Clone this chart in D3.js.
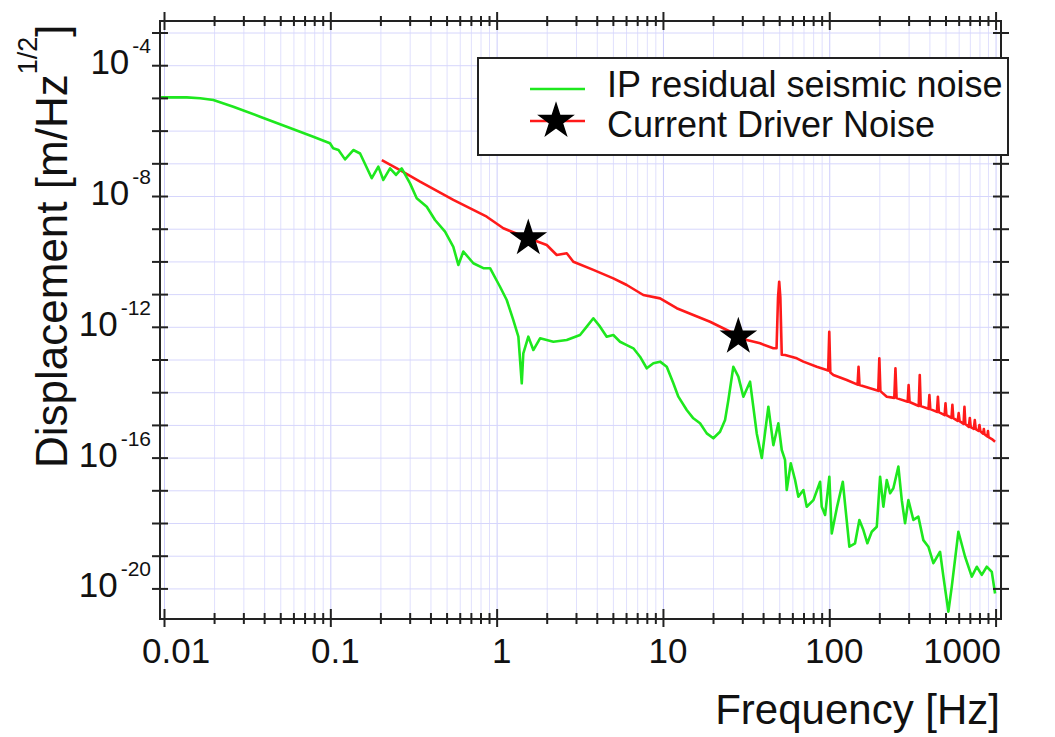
<!DOCTYPE html>
<html>
<head>
<meta charset="utf-8">
<script src="https://cdn.jsdelivr.net/npm/d3@7"></script>
<style>
  body { margin: 0; background: #fff; }
  text { font-family: "Liberation Sans", Arial, Helvetica, sans-serif; fill: #111; }
</style>
</head>
<body>
<svg id="chart" width="1055" height="737"></svg>
<script>
// IP residual seismic noise [Hz, m/rtHz]
const ipNoise = [
  [0.0096,1.04e-5],[0.0137,1.04e-5],[0.0165,9.8e-6],[0.0198,8.6e-6],[0.0261,5.4e-6],[0.0378,2.66e-6],[0.0547,1.32e-6],
  [0.079,6.5e-7],[0.0995,4.1e-7],[0.104,2.9e-7],[0.112,2.55e-7],[0.1226,1.32e-7],[0.1375,2.55e-7],
  [0.151,2.0e-7],[0.1775,3.5e-8],[0.1944,7.9e-8],[0.2083,3.1e-8],[0.2286,7.0e-8],[0.2483,4.4e-8],
  [0.2687,7.0e-8],[0.3015,2.44e-8],[0.3307,8.5e-9],[0.38,4.7e-9],[0.4262,1.85e-9],[0.4895,8.1e-10],
  [0.549,2.8e-10],[0.5884,7.8e-11],[0.6306,2.0e-10],[0.7244,8.8e-11],[0.8318,6.2e-11],[0.9127,6.2e-11],
  [1.048,1.68e-11],[1.15,6.6e-12],[1.26,1.61e-12],[1.351,5.0e-13],[1.416,1.87e-14],[1.447,1.55e-13],
  [1.551,5.0e-13],[1.662,1.95e-13],[1.824,4.45e-13],[2.193,3.5e-13],[2.64,3.95e-13],[3.173,5.6e-13],
  [3.482,1.01e-12],[3.815,1.82e-12],[4.186,1.01e-12],[4.59,5.0e-13],[5.03,5.6e-13],[5.52,3.5e-13],
  [6.06,2.77e-13],[6.64,2.2e-13],[7.28,1.22e-13],[7.99,5.4e-14],[8.76,7.7e-14],[9.61,8.6e-14],
  [10.54,6.0e-14],[11.55,1.87e-14],[12.38,7.3e-15],[13.9,2.86e-15],[15.23,1.59e-15],[16.71,1.12e-15],
  [18.34,5.5e-16],[20.09,3.9e-16],[22.04,6.2e-16],[23.63,1.41e-15],[24.74,5.8e-15],[26.5,6.0e-14],
  [28.4,3.0e-14],[30.44,7.3e-15],[33.4,2.1e-14],[36.64,5.5e-16],[39.28,9.7e-17],[43.04,3.6e-15],
  [46.12,2.4e-16],[49.43,1.12e-15],[51.8,1.71e-16],[54.2,8.5e-17],[55.5,1.02e-17],[58.7,6.7e-17],
  [62.3,2.07e-17],[65.2,6.4e-18],[69.9,1.02e-17],[73.2,3.15e-18],[80.3,5.0e-18],[88.1,1.83e-17],
  [90.1,3.15e-18],[94.4,1.76e-18],[100.1,2.6e-17],[103.5,4.8e-19],[110.9,2.8e-18],[120.6,1.83e-17],
  [132.1,1.88e-19],[142.9,2.4e-19],[151.7,1.24e-18],[160.4,6.1e-19],[169.5,2.4e-19],[180.1,5.4e-19],
  [193.1,7.7e-19],[202.1,2.6e-17],[211.5,3.15e-18],[221.7,2.07e-17],[232.1,8.1e-18],[242.9,1.15e-17],
  [260.4,5.3e-17],[272.9,5.0e-18],[285.6,9.8e-19],[299.1,5.0e-18],[320.5,1.24e-18],[343.4,1.56e-18],
  [367.9,3.0e-19],[394.4,1.88e-19],[422.7,5.9e-20],[463.7,1.32e-19],[485.6,2.3e-20],[520.3,1.94e-21],
  [545.3,1.13e-20],[597.6,5.4e-19],[655.7,9.3e-20],[719.4,2.3e-20],[770.8,4.6e-20],[826,2.6e-20],
  [885.2,4.6e-20],[949,3.2e-20],[993,7.0e-21]
];

// Current driver noise [Hz, m/rtHz]
const driverNoise = [
  [0.204,1.26e-7],[0.2625,6.2e-8],[0.3463,2.74e-8],[0.549,7.6e-9],[0.872,2.33e-9],[1.097,1.03e-9],
  [1.382,6.4e-10],[2.001,3.18e-10],[2.298,1.57e-10],[2.64,1.77e-10],[2.892,9.8e-11],[3.815,5.5e-11],
  [5.03,3.04e-11],[6.06,1.9e-11],[7.62,9.4e-12],[9.61,7.4e-12],[12.1,3.7e-12],[15.23,2.3e-12],
  [19.19,1.43e-12],[24.2,8.0e-13],[31.9,3.95e-13],[38.4,3.13e-13],[46.1,2.2e-13],[48.2,2.2e-13],
  [49.2,8e-12],[50,2.4e-11],[50.8,8e-12],[51.8,1.4e-13],[54.2,1.37e-13],[63.8,1.09e-13],[69.9,8.6e-14],
  [84.1,6.0e-14],[96.6,4.8e-14],[98.5,4.6e-14],[100,7.1e-13],[101.5,4.0e-14],[105.9,3.36e-14],
  [127.4,2.36e-14],[148,1.7e-14],[150,6.0e-14],[152,1.65e-14],[176,1.32e-14],[197,1.1e-14],
  [200,1.09e-13],[203,1.08e-14],[221.7,7.3e-15],[246,6.7e-15],[250,5.4e-14],[254,6.6e-15],
  [296,5.1e-15],[300,1.66e-14],[304,5.0e-15],[345,3.8e-15],[350,3.36e-14],[355,3.75e-15],
  [395,3.1e-15],[400,8.2e-15],[405,3.05e-15],[444,2.5e-15],[450,7.3e-15],[456,2.45e-15],
  [494,2.0e-15],[500,4.6e-15],[506,2.0e-15],[543,1.64e-15],[550,4.1e-15],[557,1.62e-15],
  [592,1.33e-15],[600,2.3e-15],[608,1.31e-15],[642,1.08e-15],[650,3.6e-15],[658,1.06e-15],
  [691,8.7e-16],[700,1.63e-15],[709,8.6e-16],[740,7.6e-16],[750,1.41e-15],[760,7.4e-16],
  [790,6.6e-16],[800,9.9e-16],[810,6.4e-16],[842,5.4e-16],[850,7.5e-16],[858,5.2e-16],
  [893,4.4e-16],[900,6.5e-16],[907,4.2e-16],[950,3.7e-16],[993,3.06e-16]
];

// star markers on the driver noise curve
const driverMarkers = [[1.55,5.1e-10],[28.4,5.0e-13]];

const xTickLabels = ["0.01","0.1","1","10","100","1000"];
const yLabelExps = [-4,-8,-12,-16,-20];
const legendNames = ["IP residual seismic noise","Current Driver Noise"];

const svg = d3.select("#chart");
const pLeft = 160, pRight = 1001, pTop = 21, pBottom = 619;

const x = d3.scaleLog().domain([0.00946,1078]).range([pLeft,pRight]);
const y = d3.scaleLog().domain([1.16e-21,2.25e-3]).range([pBottom,pTop]);

// tick positions
let xAll = [];
for (let e=-2;e<=2;e++){
  for (let m=1;m<=9;m++) xAll.push(+(m*Math.pow(10,e)).toPrecision(6));
}
xAll.push(1000);
let yAll = [];
for (let e=-3;e>=-20;e--) yAll.push(Math.pow(10,e));
const isMajor = d => Math.abs(Math.log10(d) - Math.round(Math.log10(d))) < 1e-6;

svg.append("rect").attr("width",1055).attr("height",737).attr("fill","#fff");

// grid
svg.append("g")
  .attr("transform","translate(0,"+pBottom+")")
  .call(d3.axisBottom(x).tickValues(xAll).tickFormat("").tickSize(-(pBottom-pTop)).tickSizeOuter(0))
  .call(g => g.select(".domain").remove())
  .selectAll(".tick line").attr("stroke", d => isMajor(d) ? "#cdcdfb" : "#e0e0fd").attr("stroke-width",1);
svg.append("g")
  .attr("transform","translate("+pLeft+",0)")
  .call(d3.axisLeft(y).tickValues(yAll).tickFormat("").tickSize(-(pRight-pLeft)).tickSizeOuter(0))
  .call(g => g.select(".domain").remove())
  .selectAll(".tick line").attr("stroke","#d6d6fc").attr("stroke-width",1);

// curves
svg.append("defs").append("clipPath").attr("id","clip")
  .append("rect").attr("x",pLeft).attr("y",pTop).attr("width",pRight-pLeft).attr("height",pBottom-pTop);

const line = d3.line().x(d => x(d[0])).y(d => y(d[1]));

svg.append("path").datum(driverNoise)
  .attr("clip-path","url(#clip)")
  .attr("fill","none").attr("stroke","#ff1a1a").attr("stroke-width",2.6)
  .attr("stroke-linejoin","round")
  .attr("d",line);

svg.append("path").datum(ipNoise)
  .attr("clip-path","url(#clip)")
  .attr("fill","none").attr("stroke","#1ee81e").attr("stroke-width",2.6)
  .attr("stroke-linejoin","round")
  .attr("d",line);

const star = d3.symbol().type(d3.symbolStar).size(340);
svg.selectAll("path.marker").data(driverMarkers).enter()
  .append("path").attr("class","marker")
  .attr("transform", d => "translate("+x(d[0])+","+y(d[1])+")")
  .attr("d",star).attr("fill","#000").attr("stroke","#000").attr("stroke-width",1.5);

// axes: ticks cross the frame
function crossTicks(g, inner, outer){
  g.select(".domain").remove();
  g.selectAll(".tick line").attr("stroke","#222").attr("stroke-width",2)
    .attr(inner.attr, inner.v).attr(outer.attr, outer.v);
}
svg.append("g").attr("transform","translate(0,"+pBottom+")")
  .call(d3.axisBottom(x).tickValues(xAll).tickFormat(""))
  .call(g => crossTicks(g, {attr:"y1", v:d => isMajor(d)?-10:-6}, {attr:"y2", v:d => isMajor(d)?8:5}));
svg.append("g").attr("transform","translate(0,"+pTop+")")
  .call(d3.axisTop(x).tickValues(xAll).tickFormat(""))
  .call(g => crossTicks(g, {attr:"y1", v:d => isMajor(d)?9:5}, {attr:"y2", v:d => isMajor(d)?-9:-5}));
svg.append("g").attr("transform","translate("+pLeft+",0)")
  .call(d3.axisLeft(y).tickValues(yAll).tickFormat(""))
  .call(g => crossTicks(g, {attr:"x1", v:8}, {attr:"x2", v:-8}));
svg.append("g").attr("transform","translate("+pRight+",0)")
  .call(d3.axisRight(y).tickValues(yAll).tickFormat(""))
  .call(g => crossTicks(g, {attr:"x1", v:-8}, {attr:"x2", v:8}));

svg.append("rect").attr("x",pLeft).attr("y",pTop).attr("width",pRight-pLeft).attr("height",pBottom-pTop)
  .attr("fill","none").attr("stroke","#222").attr("stroke-width",2);

// x tick labels
xTickLabels.forEach((lab,i) => {
  const t = svg.append("text").attr("y",663).style("font-size","35px").text(lab);
  const px = x(+lab);
  if (i==0) t.attr("x",px-22).attr("text-anchor","start");
  else if (i==xTickLabels.length-1) t.attr("x",pRight).attr("text-anchor","end");
  else t.attr("x",px+5).attr("text-anchor","middle");
});

// y tick labels 10^n
yLabelExps.forEach(e => {
  const t = svg.append("text").attr("x",151).attr("y",y(Math.pow(10,e))+9)
    .attr("text-anchor","end").style("font-size","35px");
  t.append("tspan").text("10");
  t.append("tspan").attr("dx",3).attr("dy",-21).style("font-size","21px").text(e);
});

// axis titles
svg.append("text").attr("x",1000).attr("y",724).attr("text-anchor","end")
  .style("font-size","42px").text("Frequency [Hz]");

const yt = svg.append("text").attr("transform","translate(67,468) rotate(-90)")
  .style("font-size","44px");
yt.append("tspan").text("Displacement [m/Hz");
yt.append("tspan").attr("dy",-30).style("font-size","27px").text("1/2");
yt.append("tspan").attr("dy",30).text("]");

// legend
const lg = svg.append("g");
lg.append("rect").attr("x",478).attr("y",58).attr("width",530).attr("height",97)
  .attr("fill","#fff").attr("stroke","#222").attr("stroke-width",2);
lg.append("line").attr("x1",530).attr("x2",585).attr("y1",89).attr("y2",89)
  .attr("stroke","#1ee81e").attr("stroke-width",2.6);
lg.append("line").attr("x1",530).attr("x2",585).attr("y1",121).attr("y2",121)
  .attr("stroke","#ff1a1a").attr("stroke-width",2.6);
lg.append("path").attr("transform","translate(556,121)").attr("d",star)
  .attr("fill","#000").attr("stroke","#000").attr("stroke-width",1.5);
legendNames.forEach((n,i) => {
  lg.append("text").attr("x",607).attr("y",97+i*40).style("font-size","36px").text(n);
});
</script>
</body>
</html>
